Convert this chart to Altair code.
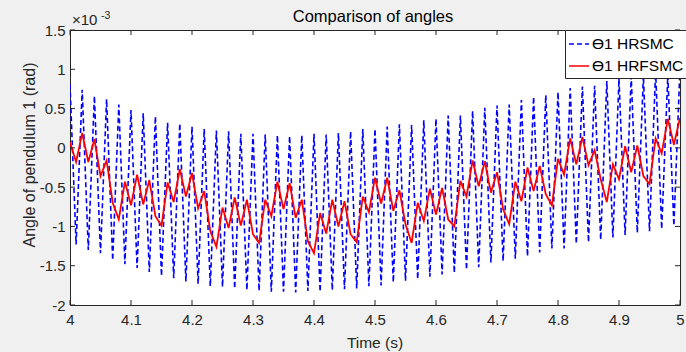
import altair as alt
import pandas as pd

# ---------------- data ----------------
time_s = [round(4 + 0.01 * k, 2) for k in range(101)]

# HRSMC chattering: peaks at even samples, troughs at odd samples (x1e-3 rad)
hrsmc_peaks = [0.81, 0.74, 0.66, 0.62, 0.55, 0.48, 0.44, 0.40, 0.32, 0.31,
               0.27, 0.24, 0.22, 0.21, 0.18, 0.18, 0.17, 0.16, 0.15, 0.16,
               0.18, 0.17, 0.19, 0.21, 0.24, 0.24, 0.27, 0.30, 0.29, 0.35,
               0.37, 0.41, 0.41, 0.47, 0.51, 0.54, 0.55, 0.61, 0.65, 0.67,
               0.71, 0.76, 0.78, 0.79, 0.85, 0.88, 0.91, 0.92, 0.98, 0.92,
               1.02]
hrsmc_troughs = [-1.23, -1.30, -1.34, -1.43, -1.48, -1.53, -1.58, -1.63, -1.66, -1.70,
                 -1.73, -1.76, -1.77, -1.79, -1.81, -1.82, -1.83, -1.83, -1.84, -1.82,
                 -1.83, -1.81, -1.80, -1.79, -1.76, -1.75, -1.71, -1.69, -1.67, -1.64,
                 -1.61, -1.59, -1.55, -1.52, -1.46, -1.44, -1.41, -1.38, -1.33, -1.28,
                 -1.28, -1.22, -1.20, -1.17, -1.14, -1.11, -1.08, -1.06, -1.03, -0.99]

hrfsmc = [0.07, -0.18, 0.19, -0.18, 0.11, -0.36, -0.16, -0.70, -0.91, -0.43,
          -0.73, -0.34, -0.72, -0.41, -0.87, -0.99, -0.44, -0.69, -0.27, -0.62,
          -0.32, -0.77, -0.55, -1.06, -1.26, -0.76, -1.02, -0.63, -0.99, -0.66,
          -1.10, -1.21, -0.66, -0.87, -0.43, -0.78, -0.45, -0.89, -0.66, -1.19,
          -1.34, -0.83, -1.09, -0.66, -1.00, -0.68, -1.10, -1.20, -0.62, -0.82,
          -0.38, -0.71, -0.38, -0.80, -0.54, -0.97, -1.21, -0.70, -0.93, -0.52,
          -0.85, -0.51, -0.91, -1.00, -0.42, -0.62, -0.16, -0.49, -0.17, -0.57,
          -0.31, -0.78, -0.97, -0.43, -0.68, -0.25, -0.55, -0.23, -0.59, -0.73,
          -0.14, -0.34, 0.12, -0.21, 0.14, -0.22, -0.03, -0.40, -0.69, -0.21,
          -0.40, 0.02, -0.31, 0.03, -0.36, -0.46, 0.12, -0.07, 0.37, 0.04,
          0.38]

series_names = ["ϴ1 HRSMC", "ϴ1 HRFSMC"]
x_ticks = [4.0, 4.1, 4.2, 4.3, 4.4, 4.5, 4.6, 4.7, 4.8, 4.9, 5.0]
y_ticks = [-2.0, -1.5, -1.0, -0.5, 0.0, 0.5, 1.0, 1.5]
title_text = "Comparison of angles"
x_title = "Time (s)"
y_title = "Angle of pendulum 1 (rad)"
exp_base = "×10"
exp_power = "-3"

# ---------------- build tables ----------------
hrsmc = []
for j in range(len(hrsmc_troughs)):
    hrsmc += [hrsmc_peaks[j], hrsmc_troughs[j]]
hrsmc.append(hrsmc_peaks[-1])

df_b = pd.DataFrame({"t": time_s, "v": hrsmc, "series": series_names[0]})
df_r = pd.DataFrame({"t": time_s, "v": hrfsmc, "series": series_names[1]})
df_xt = pd.DataFrame({"t": x_ticks})
df_yt = pd.DataFrame({"v": y_ticks})

W, H = 610, 275
FONT = "Liberation Sans"
AX = "#262626"

xs = alt.Scale(domain=[4, 5], nice=False, zero=False)
ys = alt.Scale(domain=[-2, 1.5], nice=False, zero=False)

x_axis = alt.Axis(values=x_ticks, labelExpr="'' + datum.value", ticks=False, tickSize=0,
                  domain=False, grid=False, labelFontSize=15, labelFont=FONT,
                  labelColor=AX, labelPadding=7, title=None, labelFlush=False)
y_axis = alt.Axis(values=y_ticks, labelExpr="'' + datum.value", ticks=False, tickSize=0,
                  domain=False, grid=False, labelFontSize=15, labelFont=FONT,
                  labelColor=AX, labelPadding=5, title=None, labelFlush=False)

X = alt.X("t:Q", scale=xs, axis=x_axis)
Y = alt.Y("v:Q", scale=ys, axis=y_axis)

leg = dict(orient="none", legendX=495, legendY=0, title=None, fillColor="white",
           strokeColor=AX, padding=3, symbolType="stroke", symbolSize=400,
           symbolStrokeWidth=1.6, labelFontSize=15.5, labelFont=FONT, labelColor="#000",
           labelOffset=2, rowPadding=2, labelLimit=0, cornerRadius=0)

color = alt.Color("series:N", scale=alt.Scale(domain=series_names, range=["#0000ff", "#ff0000"]),
                  legend=alt.Legend(**leg))
dash = alt.StrokeDash("series:N", scale=alt.Scale(domain=series_names, range=[[5, 3], [1, 0]]),
                      legend=alt.Legend(**leg))

blue = alt.Chart(df_b).mark_line(strokeWidth=1.6, clip=True).encode(
    x=X, y=Y, color=color, strokeDash=dash, order="t:Q")

red = alt.Chart(df_r).mark_line(strokeWidth=1.8, clip=True).encode(
    x=X, y=Y, color=color, strokeDash=dash, order="t:Q")

tick_len = 5
xt_bottom = alt.Chart(df_xt).mark_rule(color=AX, strokeWidth=1).encode(
    x=X, y=alt.value(H), y2=alt.value(H - tick_len))
xt_top = alt.Chart(df_xt).mark_rule(color=AX, strokeWidth=1).encode(
    x=X, y=alt.value(0), y2=alt.value(tick_len))
yt_left = alt.Chart(df_yt).mark_rule(color=AX, strokeWidth=1).encode(
    y=Y, x=alt.value(0), x2=alt.value(tick_len))
yt_right = alt.Chart(df_yt).mark_rule(color=AX, strokeWidth=1).encode(
    y=Y, x=alt.value(W), x2=alt.value(W - tick_len))

def label(txt, x, y, size, color="#000", angle=0, align="center", baseline="alphabetic"):
    kw = dict(fontSize=size, font=FONT, color=color, align=align, baseline=baseline)
    if angle:
        kw["angle"] = angle
    return alt.Chart(pd.DataFrame({"s": [txt]})).mark_text(**kw).encode(
        x=alt.value(x), y=alt.value(y), text="s:N")

title_l = label(title_text, 303, -8, 16.5)
xlab = label(x_title, 305, 318, 15.5, color=AX)
ylab = label(y_title, -40, 125, 16, color=AX, angle=270, baseline="middle")
exp1 = label(exp_base, 2, -5, 15, color=AX, align="left")
exp2 = label(exp_power, 31, -11, 10.5, color=AX, align="left")

chart = alt.layer(blue, red, xt_bottom, xt_top, yt_left, yt_right,
                  title_l, xlab, ylab, exp1, exp2).properties(
    width=W, height=H,
    autosize=alt.AutoSizeParams(type="none"),
    padding={"left": 70, "top": 30, "right": 6, "bottom": 47},
    background="#f0f0f0",
).configure_view(stroke=AX, strokeWidth=1, fill="white")

chart.save("out.html", embed_options={"renderer": "svg", "actions": False})
